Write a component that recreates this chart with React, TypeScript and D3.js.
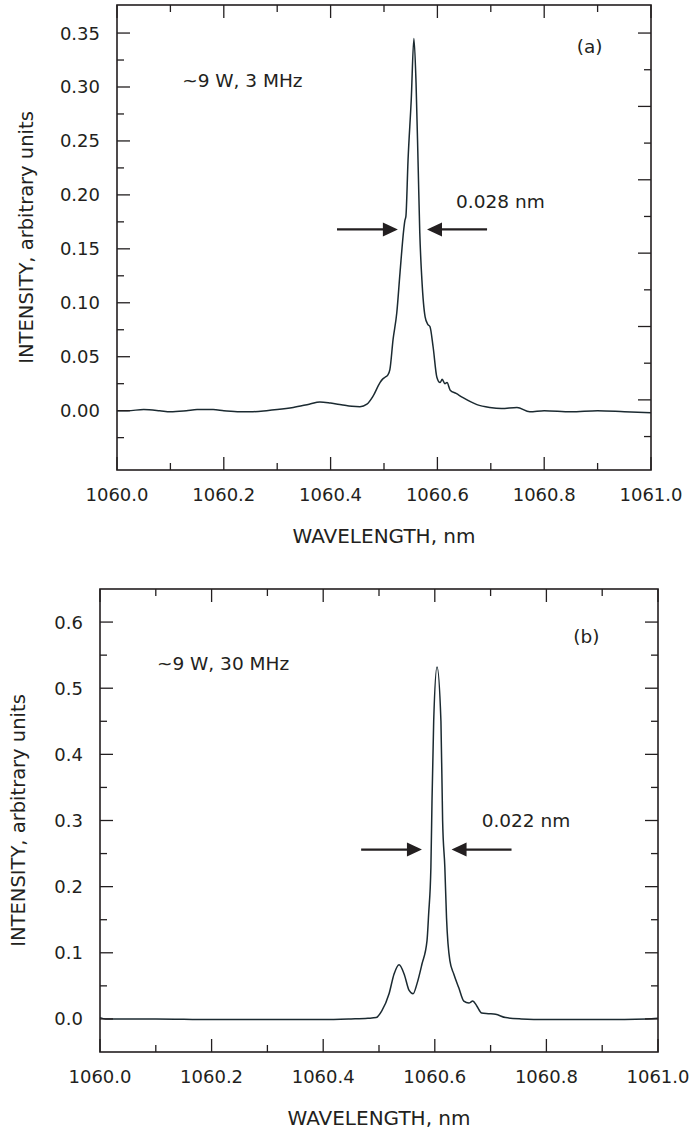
import React from "react";
import * as d3 from "d3";

// ---------- data ----------
const wavelengthA = [
  1060.0, 1060.02, 1060.05, 1060.08, 1060.1, 1060.13, 1060.15, 1060.18, 1060.2, 1060.23,
  1060.25, 1060.28, 1060.3, 1060.33, 1060.36, 1060.38, 1060.4, 1060.42, 1060.44, 1060.455,
  1060.468, 1060.479, 1060.4925, 1060.497, 1060.502, 1060.507, 1060.511, 1060.517, 1060.524,
  1060.53, 1060.537, 1060.539, 1060.541, 1060.545, 1060.551, 1060.556, 1060.56, 1060.564,
  1060.567, 1060.571, 1060.577, 1060.582, 1060.586, 1060.592, 1060.599, 1060.605, 1060.609,
  1060.614, 1060.618, 1060.624, 1060.635, 1060.648, 1060.674, 1060.698, 1060.72, 1060.749,
  1060.773, 1060.8, 1060.85, 1060.9, 1060.95, 1061.0,
];
const intensityA = [
  0.0, 0.0, 0.001, 0.0, -0.001, 0.0, 0.001, 0.001, 0.0, -0.001,
  -0.001, 0.0, 0.001, 0.003, 0.006, 0.008, 0.007, 0.0055, 0.004, 0.0037,
  0.006, 0.013, 0.026, 0.029, 0.031, 0.033, 0.038, 0.066, 0.091,
  0.128, 0.168, 0.176, 0.18, 0.232, 0.288, 0.345, 0.304, 0.226,
  0.165, 0.121, 0.087, 0.08, 0.078, 0.059, 0.031, 0.026, 0.029,
  0.025, 0.026, 0.019, 0.016, 0.012, 0.0056, 0.003, 0.002, 0.003,
  -0.001, 0.0, -0.001, 0.0, -0.001, -0.002,
];

const wavelengthB = [
  1060.0, 1060.01, 1060.1, 1060.2, 1060.3, 1060.4, 1060.45, 1060.48, 1060.495, 1060.505,
  1060.518, 1060.527, 1060.536, 1060.545, 1060.554, 1060.561, 1060.568, 1060.577, 1060.586,
  1060.589, 1060.593, 1060.595, 1060.598, 1060.604, 1060.611, 1060.614, 1060.618, 1060.621,
  1060.627, 1060.634, 1060.643, 1060.652, 1060.661, 1060.668, 1060.675, 1060.684, 1060.696,
  1060.709, 1060.727, 1060.755, 1060.8, 1060.9, 1060.98, 1061.0,
];
const intensityB = [
  0.002, 0.0, 0.0, -0.001, -0.001, -0.001, 0.0, 0.001, 0.002, 0.012,
  0.038, 0.068, 0.082, 0.068, 0.043, 0.038, 0.053, 0.083, 0.118,
  0.159, 0.229, 0.33, 0.45, 0.532, 0.45, 0.3, 0.229, 0.153,
  0.088, 0.068, 0.047, 0.027, 0.024, 0.027, 0.02, 0.009, 0.008,
  0.007, 0.002, 0.0, -0.001, -0.001, 0.0, 0.001,
];

const xMajorTicks = [1060.0, 1060.2, 1060.4, 1060.6, 1060.8, 1061.0];
const xMinorTicks = [1060.1, 1060.3, 1060.5, 1060.7, 1060.9];

const yMajorTicksA = [0, 0.05, 0.1, 0.15, 0.2, 0.25, 0.3, 0.35];
const yMinorTicksA = [-0.025, 0.025, 0.075, 0.125, 0.175, 0.225, 0.275, 0.325];
const yRightTicksA = [0.35, 0.316, 0.282, 0.248, 0.214, 0.18, 0.146, 0.112, 0.078, 0.044, 0.01, -0.024];

const yMajorTicksB = [0, 0.1, 0.2, 0.3, 0.4, 0.5, 0.6];
const yMinorTicksB = [0.05, 0.15, 0.25, 0.35, 0.45, 0.55];

const INK = "#231f20";
const CURVE = "#1b2a31";
const FONT = "'DejaVu Sans', 'Liberation Sans', Arial, sans-serif";

type PanelSpec = {
  left: number; right: number; top: number; bottom: number;
  yDomain: [number, number];
  xs: number[]; ys: number[];
  yMajor: number[]; yMinor: number[]; yFmt: string;
  rightTicks: number[] | null;
  note: string; notePos: [number, number];
  tag: string; tagPos: [number, number];
  width: string; widthPos: [number, number];
  arrowY: number; arrowL: [number, number]; arrowR: [number, number];
  yTitleX: number;
};

const panels: PanelSpec[] = [
  {
    left: 117, right: 651, top: 5, bottom: 470,
    yDomain: [-0.055, 0.376],
    xs: wavelengthA, ys: intensityA,
    yMajor: yMajorTicksA, yMinor: yMinorTicksA, yFmt: ".2f",
    rightTicks: yRightTicksA,
    note: "~9 W, 3 MHz", notePos: [1060.122, 0.3],
    tag: "(a)", tagPos: [1060.861, 0.3315],
    width: "0.028 nm", widthPos: [1060.635, 0.1877],
    arrowY: 0.168, arrowL: [1060.412, 1060.526], arrowR: [1060.5805, 1060.693],
    yTitleX: 33,
  },
  {
    left: 100, right: 658, top: 589, bottom: 1052,
    yDomain: [-0.05, 0.65],
    xs: wavelengthB, ys: intensityB,
    yMajor: yMajorTicksB, yMinor: yMinorTicksB, yFmt: ".1f",
    rightTicks: null,
    note: "~9 W, 30 MHz", notePos: [1060.102, 0.5275],
    tag: "(b)", tagPos: [1060.848, 0.568],
    width: "0.022 nm", widthPos: [1060.684, 0.29],
    arrowY: 0.256, arrowL: [1060.468, 1060.577], arrowR: [1060.63, 1060.7375],
    yTitleX: 25,
  },
];

const MAJ = 13;
const MIN = 7;
const HEAD = 15;
const HALF = 7;

function Panel({ p }: { p: PanelSpec }) {
  const x = d3.scaleLinear().domain([1060, 1061]).range([p.left, p.right]);
  const y = d3.scaleLinear().domain(p.yDomain).range([p.bottom, p.top]);
  const line = d3
    .line<number>()
    .x((_, i) => x(p.xs[i]))
    .y((d) => y(d))
    .curve(d3.curveMonotoneX);
  const path = line(p.ys) || "";
  const fx = d3.format(".1f");
  const fy = d3.format(p.yFmt);
  const ay = y(p.arrowY);
  const lTip = x(p.arrowL[1]);
  const rTip = x(p.arrowR[0]);
  const midX = (p.left + p.right) / 2;
  const midY = (p.top + p.bottom) / 2;

  return (
    <g>
      {/* curve */}
      <path d={path} fill="none" stroke={CURVE} strokeWidth={1.5} strokeLinejoin="round" />

      {/* frame */}
      <rect x={p.left} y={p.top} width={p.right - p.left} height={p.bottom - p.top}
        fill="none" stroke={INK} strokeWidth={1.6} />

      {/* bottom + top ticks */}
      {xMajorTicks.map((t) => (
        <g key={"xM" + t}>
          <line x1={x(t)} x2={x(t)} y1={p.bottom} y2={p.bottom - MAJ} stroke={INK} strokeWidth={1.3} />
          <line x1={x(t)} x2={x(t)} y1={p.top} y2={p.top + MAJ} stroke={INK} strokeWidth={1.3} />
          <text x={x(t)} y={p.bottom + 31} textAnchor="middle" fontSize={18} fontFamily={FONT} fill={INK}>
            {fx(t)}
          </text>
        </g>
      ))}
      {xMinorTicks.map((t) => (
        <g key={"xm" + t}>
          <line x1={x(t)} x2={x(t)} y1={p.bottom} y2={p.bottom - MIN} stroke={INK} strokeWidth={1.3} />
          <line x1={x(t)} x2={x(t)} y1={p.top} y2={p.top + MIN} stroke={INK} strokeWidth={1.3} />
        </g>
      ))}

      {/* left ticks */}
      {p.yMajor.map((t) => (
        <g key={"yM" + t}>
          <line x1={p.left} x2={p.left + MAJ} y1={y(t)} y2={y(t)} stroke={INK} strokeWidth={1.3} />
          {!p.rightTicks && (
            <line x1={p.right} x2={p.right - MAJ} y1={y(t)} y2={y(t)} stroke={INK} strokeWidth={1.3} />
          )}
          <text x={p.left - 17} y={y(t)} dy="0.36em" textAnchor="end" fontSize={18} fontFamily={FONT} fill={INK}>
            {fy(t)}
          </text>
        </g>
      ))}
      {p.yMinor.map((t) => (
        <g key={"ym" + t}>
          <line x1={p.left} x2={p.left + MIN} y1={y(t)} y2={y(t)} stroke={INK} strokeWidth={1.3} />
          {!p.rightTicks && (
            <line x1={p.right} x2={p.right - MIN} y1={y(t)} y2={y(t)} stroke={INK} strokeWidth={1.3} />
          )}
        </g>
      ))}
      {p.rightTicks &&
        p.rightTicks.map((t, i) => (
          <line key={"r" + t} x1={p.right} x2={p.right - (i % 2 === 0 ? MAJ : MIN)} y1={y(t)} y2={y(t)}
            stroke={INK} strokeWidth={1.3} />
        ))}

      {/* axis titles */}
      <text x={midX} y={p.bottom + 73} textAnchor="middle" fontSize={20} fontFamily={FONT} fill={INK}>
        WAVELENGTH, nm
      </text>
      <text transform={`translate(${p.yTitleX},${midY}) rotate(-90)`} textAnchor="middle"
        fontSize={19.5} fontFamily={FONT} fill={INK}>
        INTENSITY, arbitrary units
      </text>

      {/* annotations */}
      <text x={x(p.notePos[0])} y={y(p.notePos[1])} fontSize={18.5} fontFamily={FONT} fill={INK}>
        {p.note}
      </text>
      <text x={x(p.tagPos[0])} y={y(p.tagPos[1])} fontSize={18.5} fontFamily={FONT} fill={INK}>
        {p.tag}
      </text>
      <text x={x(p.widthPos[0])} y={y(p.widthPos[1])} fontSize={18.5} fontFamily={FONT} fill={INK}>
        {p.width}
      </text>

      {/* FWHM arrows */}
      <line x1={x(p.arrowL[0])} x2={lTip - HEAD + 1} y1={ay} y2={ay} stroke={INK} strokeWidth={2.4} />
      <polygon points={`${lTip},${ay} ${lTip - HEAD},${ay - HALF} ${lTip - HEAD},${ay + HALF}`} fill={INK} />
      <line x1={rTip + HEAD - 1} x2={x(p.arrowR[1])} y1={ay} y2={ay} stroke={INK} strokeWidth={2.4} />
      <polygon points={`${rTip},${ay} ${rTip + HEAD},${ay - HALF} ${rTip + HEAD},${ay + HALF}`} fill={INK} />
    </g>
  );
}

export default function App() {
  return (
    <svg width={689} height={1133} viewBox="0 0 689 1133"
      style={{ position: "absolute", left: 0, top: 0, background: "#fff" }}>
      <rect x={0} y={0} width={689} height={1133} fill="#fff" />
      {panels.map((p, i) => (
        <Panel key={i} p={p} />
      ))}
    </svg>
  );
}
